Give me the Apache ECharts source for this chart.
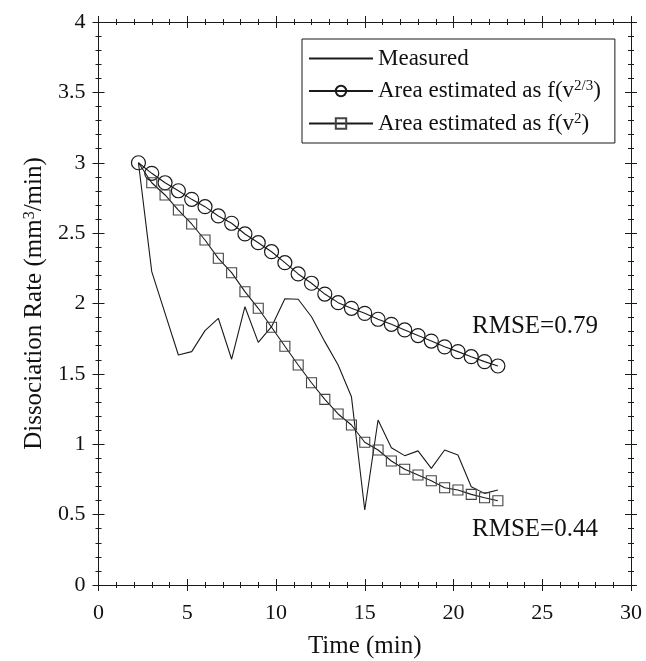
<!DOCTYPE html>
<html>
<head>
<meta charset="utf-8">
<script src="https://cdn.jsdelivr.net/npm/echarts@6/dist/echarts.min.js"></script>
<style>
html,body{margin:0;padding:0;background:#fff;}
#chart{width:646px;height:661px;}
</style>
</head>
<body>
<div id="chart"></div>
<script>
// Time points (min)
const times = [2.25, 3, 3.75, 4.5, 5.25, 6, 6.75, 7.5, 8.25, 9, 9.75, 10.5, 11.25, 12, 12.75, 13.5, 14.25, 15, 15.75, 16.5, 17.25, 18, 18.75, 19.5, 20.25, 21, 21.75, 22.5];
// Measured dissociation rate
const measured = [3.0, 2.226, 1.93, 1.634, 1.658, 1.807, 1.895, 1.604, 1.977, 1.724, 1.835, 2.034, 2.03, 1.906, 1.729, 1.563, 1.338, 0.533, 1.172, 0.975, 0.919, 0.953, 0.829, 0.959, 0.924, 0.698, 0.651, 0.675];
// Area estimated as f(v^(2/3))
const estV23 = [3.0, 2.925, 2.858, 2.801, 2.74, 2.688, 2.622, 2.57, 2.494, 2.432, 2.368, 2.29, 2.21, 2.144, 2.067, 2.006, 1.966, 1.93, 1.888, 1.852, 1.812, 1.772, 1.733, 1.692, 1.658, 1.622, 1.587, 1.556];
// Area estimated as f(v^2)
const estV2 = [3.0, 2.858, 2.771, 2.664, 2.565, 2.451, 2.321, 2.219, 2.084, 1.966, 1.831, 1.696, 1.563, 1.437, 1.319, 1.215, 1.137, 1.014, 0.959, 0.881, 0.822, 0.782, 0.741, 0.691, 0.675, 0.644, 0.62, 0.599];

const seriesNames = ['Measured', 'Area estimated as f(v^2/3)', 'Area estimated as f(v^2)'];
const annotations = [
  {text: 'RMSE=0.79', x: 472, y: 327},
  {text: 'RMSE=0.44', x: 472, y: 530}
];

const FONT = '"Liberation Serif", "Times New Roman", serif';
const INK = '#1a1a1a';

const chart = echarts.init(document.getElementById('chart'), null, {renderer: 'canvas'});

function pairs(vals) { return times.map((t, i) => [t, vals[i]]); }

const gridBox = {left: 98.5, top: 22, width: 532.5, height: 563, containLabel: false, outerBoundsMode: 'none'};

function xAx(gridIndex, pos, inside, labels) {
  return {
    type: 'value', gridIndex, position: pos, min: 0, max: 30, interval: 5,
    axisLine: {show: true, onZero: false, lineStyle: {color: INK, width: 1}},
    axisTick: {show: true, inside, length: 6, lineStyle: {color: INK, width: 1}},
    minorTick: {show: true, splitNumber: 5, length: 3, lineStyle: {color: INK, width: 1}},
    splitLine: {show: false},
    axisLabel: {show: labels, color: '#111', fontFamily: FONT, fontSize: 22, margin: 17},
    name: labels ? 'Time (min)' : '',
    nameLocation: 'middle', nameGap: 49,
    nameTextStyle: {color: '#111', fontFamily: FONT, fontSize: 25}
  };
}
function yAx(gridIndex, pos, inside, labels) {
  return {
    type: 'value', gridIndex, position: pos, min: 0, max: 4, interval: 0.5,
    axisLine: {show: true, onZero: false, lineStyle: {color: INK, width: 1}},
    axisTick: {show: true, inside, length: 6, lineStyle: {color: INK, width: 1}},
    minorTick: {show: true, splitNumber: 5, length: 3, lineStyle: {color: INK, width: 1}},
    splitLine: {show: false},
    axisLabel: {show: labels, color: '#111', fontFamily: FONT, fontSize: 22, margin: 13},
    name: labels ? '{a|Dissociation Rate (mm}{s|3}{a|/min)}' : '',
    nameLocation: 'middle', nameGap: 52, nameRotate: 90,
    nameTextStyle: {color: '#111', fontFamily: FONT, fontSize: 25,
      rich: {a: {fontFamily: FONT, fontSize: 25, color: '#111'},
             s: {fontFamily: FONT, fontSize: 16, color: '#111', verticalAlign: 'top'}}}
  };
}

const option = {
  backgroundColor: '#fff',
  animation: false,
  grid: [Object.assign({}, gridBox), Object.assign({}, gridBox)],
  xAxis: [xAx(0, 'bottom', false, true), xAx(0, 'top', false, false),
          xAx(1, 'bottom', true, false), xAx(1, 'top', true, false)],
  yAxis: [yAx(0, 'left', false, true), yAx(0, 'right', false, false),
          yAx(1, 'left', true, false), yAx(1, 'right', true, false)],
  legend: {
    orient: 'vertical', left: 302, top: 39,
    padding: [8, 14, 8, 6], itemGap: 9, itemWidth: 64, itemHeight: 13,
    borderColor: INK, borderWidth: 1, backgroundColor: '#fff',
    data: [
      {name: seriesNames[0], itemStyle: {opacity: 0}},
      {name: seriesNames[1]},
      {name: seriesNames[2]}
    ],
    formatter: function (name) {
      if (name === seriesNames[1]) return '{n|Area estimated as f(v}{s|2/3}{n|)}';
      if (name === seriesNames[2]) return '{n|Area estimated as f(v}{s|2}{n|)}';
      return '{n|' + name + '}';
    },
    textStyle: {color: '#111', fontFamily: FONT, fontSize: 23,
      rich: {n: {fontFamily: FONT, fontSize: 23, color: '#111', lineHeight: 24},
             s: {fontFamily: FONT, fontSize: 15, color: '#111', verticalAlign: 'top'}}}
  },
  series: [
    {name: seriesNames[0], type: 'line', xAxisIndex: 0, yAxisIndex: 0,
     data: pairs(measured), symbol: 'none', showSymbol: false,
     lineStyle: {color: INK, width: 1.1}, itemStyle: {color: INK}, z: 3},
    {name: seriesNames[1], type: 'line', xAxisIndex: 0, yAxisIndex: 0,
     data: pairs(estV23), symbol: 'circle', symbolSize: 14, showSymbol: true,
     lineStyle: {color: INK, width: 1.1},
     itemStyle: {color: 'rgba(0,0,0,0)', borderColor: INK, borderWidth: 1.2}, z: 4},
    {name: seriesNames[2], type: 'line', xAxisIndex: 0, yAxisIndex: 0,
     data: pairs(estV2).map((p, i) => i === 0 ? {value: p, symbol: 'none'} : p),
     symbol: 'rect', symbolSize: 10, showSymbol: true,
     lineStyle: {color: INK, width: 1.1},
     itemStyle: {color: 'rgba(0,0,0,0)', borderColor: '#444', borderWidth: 1.1}, z: 4}
  ],
  graphic: annotations.map(a => ({
    type: 'text', left: a.x, top: a.y - 13,
    style: {text: a.text, fill: '#111', font: '25px ' + FONT}
  }))
};
chart.setOption(option);
</script>
</body>
</html>
